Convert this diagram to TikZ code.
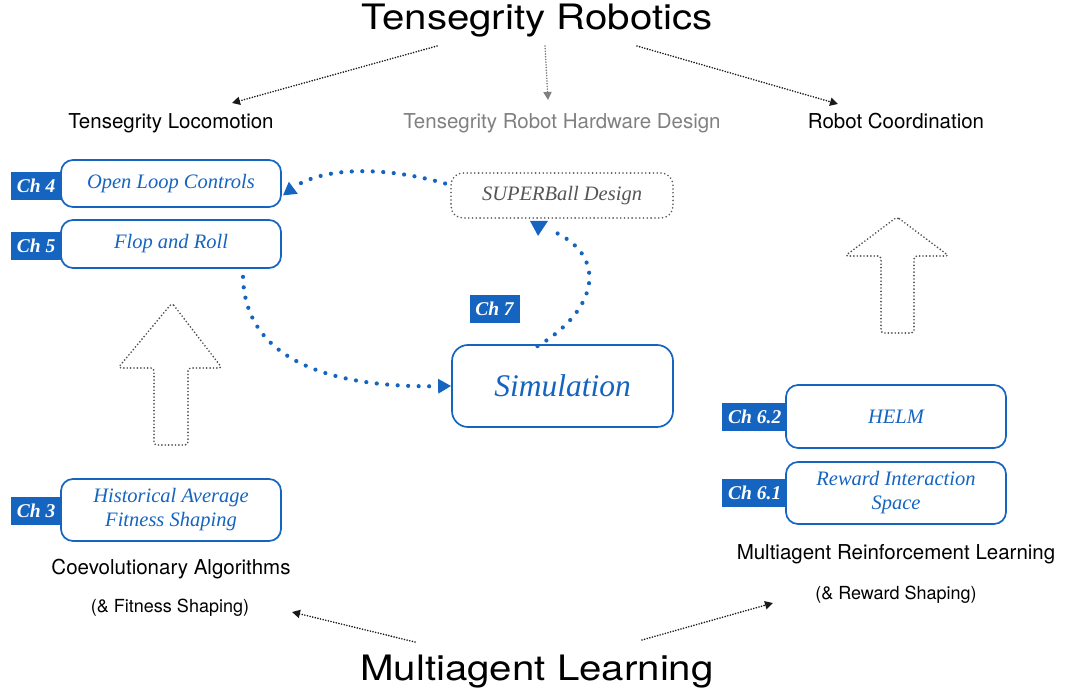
\documentclass[tikz,border=0pt]{standalone}
\usepackage{fontspec}
\setmainfont{Liberation Serif}
\newfontfamily\hv{TeX Gyre Heros}
\newfontfamily\hvwide{TeX Gyre Heros}[FakeStretch=1.15]
\usetikzlibrary{arrows.meta,calc}

\definecolor{chblue}{RGB}{21,101,192}
\definecolor{dotgray}{RGB}{80,80,80}
\definecolor{hwgray}{RGB}{128,128,128}
\definecolor{sbgray}{RGB}{85,85,85}

\tikzset{
  topic/.style={font=\hvwide\fontsize{35}{40}\selectfont, inner sep=0pt, anchor=base},
  area/.style={font=\hv\fontsize{20.5}{24}\selectfont, inner sep=0pt, anchor=base},
  areanote/.style={font=\hv\fontsize{18}{22}\selectfont, inner sep=0pt, anchor=base},
  chbox/.style={draw=chblue, line width=1.7pt, rounded corners=12pt, fill=white,
    minimum width=220pt, align=center, text=chblue, inner sep=0pt,
    font=\itshape\fontsize{20.5}{24}\selectfont},
  chtag/.style={fill=chblue, text=white, inner sep=0pt, minimum height=28pt,
    minimum width=50pt, font=\bfseries\itshape\fontsize{19.5}{22}\selectfont},
  flowline/.style={chblue, line width=4.2pt, dash pattern=on 0pt off 10.5pt, line cap=round},
  flowtip/.style={-{Triangle[length=13pt,width=14pt]}},
  relation/.style={black!90, line width=1.8pt, dash pattern=on 0pt off 2.7pt, line cap=round,
    -{Triangle[length=8pt,width=8pt]}},
  hollowarrow/.style={draw=dotgray, line width=1.9pt, dash pattern=on 0pt off 3.4pt,
    line cap=round, rounded corners=3pt}
}

\begin{document}
\begin{tikzpicture}[x=1pt,y=-1pt]
\useasboundingbox (0,0) rectangle (1070,695);

% headings
\node[topic] (robotics) at (537,30) {Tensegrity Robotics};
\node[topic] (learning) at (537,680) {Multiagent Learning};
\node[area] (loco) at (171,129) {Tensegrity Locomotion};
\node[area, text=hwgray] (hw) at (562,129) {Tensegrity Robot Hardware Design};
\node[area] (coord) at (896,129) {Robot Coordination};
\node[area] (coevo) at (171,574) {Coevolutionary Algorithms};
\node[areanote] (coevonote) at (170,612) {(\& Fitness Shaping)};
\node[area] (marl) at (896,559) {Multiagent Reinforcement Learning};
\node[areanote] (marlnote) at (896,599) {(\& Reward Shaping)};

% chapter tags (drawn first, boxes overlap their right edge)
\node[chtag, anchor=west] (t4) at (11,186) {Ch 4};
\node[chtag, anchor=west] (t5) at (11,245.5) {Ch 5};
\node[chtag, anchor=west] (t3) at (11,510.5) {Ch 3};
\node[chtag, anchor=west, minimum width=65pt] (t62) at (722,416.5) {Ch 6.2};
\node[chtag, anchor=west, minimum width=65pt] (t61) at (722,493) {Ch 6.1};
\node[chtag] (t7) at (494.5,309) {Ch 7};

% chapter boxes
\node[chbox, minimum height=47pt] (ol) at (171,183.5) {Open Loop Controls};
\node[chbox, minimum height=48pt] (fr) at (171,244) {Flop and Roll};
\node[chbox, minimum height=62pt] (hafs) at (171,510) {Historical Average\\Fitness Shaping};
\node[chbox, minimum height=63pt] (helm) at (896,416.5) {HELM};
\node[chbox, minimum height=62pt] (ris) at (896,493) {Reward Interaction\\Space};
\node[chbox, minimum width=221pt, minimum height=82pt, rounded corners=16pt,
  font=\itshape\fontsize{31.5}{34}\selectfont] (sim) at (562.5,386) {Simulation};
\node[draw=sbgray, line width=1.8pt, dash pattern=on 0pt off 3.8pt, line cap=round,
  rounded corners=12pt, fill=white, minimum width=222pt, minimum height=45pt,
  text=sbgray, font=\itshape\fontsize{20.5}{24}\selectfont] (sb) at (562,195.5) {SUPERBall Design};

% hollow dotted arrows
\draw[hollowarrow] (172,303) -- (222,368) -- (188,368) -- (188,445) -- (154,445)
  -- (154,368) -- (118,368) -- cycle;
\draw[hollowarrow] (897,217) -- (949,256) -- (914,256) -- (914,333) -- (881,333)
  -- (881,256) -- (845,256) -- cycle;

% relations from the two topics
\coordinate (r1) at ($(robotics.base)+(-100,16)$);
\coordinate (r2) at ($(robotics.base)+(8,16)$);
\coordinate (r3) at ($(robotics.base)+(100,16)$);
\coordinate (l1) at ($(learning.base)+(-122,-38)$);
\coordinate (l2) at ($(learning.base)+(105,-40)$);
\draw[relation] (r1) -- ($(loco.base)+(61,-26)$);
\draw[relation, hwgray] (r2) -- ($(hw.base)+(-14,-29)$);
\draw[relation] (r3) -- ($(coord.base)+(-58,-25)$);
\draw[relation] (l1) -- ($(coevonote.base)+(122,0)$);
\draw[relation] (l2) -- ($(marlnote.base)+(-123,4)$);

% simulation flow
\draw[flowline, flowtip] ($(sb.west)+(-5,-12)$) .. controls (380,165) and (320,168) .. ($(ol.east)+(1,12)$);
\draw[flowline, flowtip] ($(fr.south)+(72,8)$) .. controls (245,360) and (330,388) .. (sim.west);
\draw[flowline] ($(sim.north)+(-25,2)$) .. controls (598,310) and (610,255) .. ($(sb.south)+(-12,11)$);
\fill[chblue] ($(sb.south)+(-32,2)$) -- ($(sb.south)+(-14,2)$) -- ($(sb.south)+(-24,17)$) -- cycle;
\end{tikzpicture}
\end{document}
